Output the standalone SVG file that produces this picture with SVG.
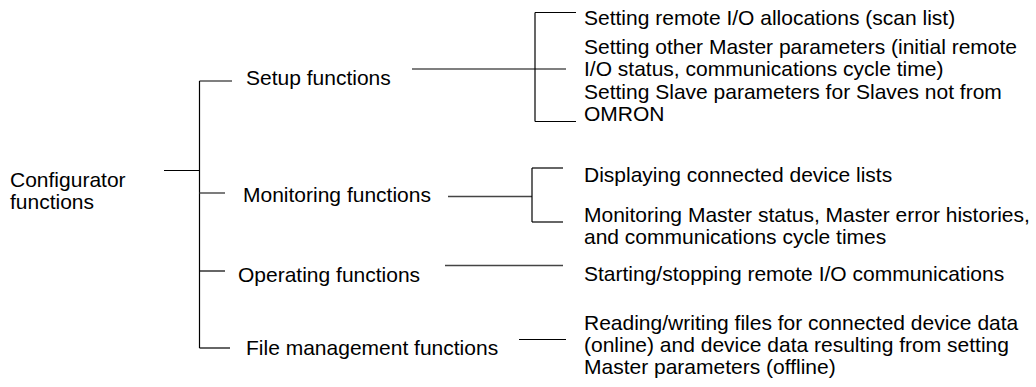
<svg xmlns="http://www.w3.org/2000/svg" width="1036" height="387" viewBox="0 0 1036 387">
<style>
text{font-family:"Liberation Sans",Arial,sans-serif;font-size:21px;fill:#000}
.c line{stroke:#000;stroke-width:1.2;fill:none}
.c line.g{stroke:#444;stroke-width:1.4}
</style>
<rect width="1036" height="387" fill="#fff"/>
<g class="c" id="connectors">
<line x1="164" y1="170.5" x2="199.5" y2="170.5"/>
<line x1="199.5" y1="81" x2="199.5" y2="348"/>
<line x1="199.5" y1="81" x2="232" y2="81"/>
<line class="g" x1="199.5" y1="193" x2="225" y2="193"/>
<line x1="199.5" y1="271" x2="225" y2="271"/>
<line x1="199.5" y1="348" x2="230" y2="348"/>
<line x1="412" y1="69" x2="566" y2="69"/>
<line x1="535" y1="12.5" x2="535" y2="121.5"/>
<line x1="535" y1="12.5" x2="576" y2="12.5"/>
<line x1="535" y1="121.5" x2="576" y2="121.5"/>
<line class="g" x1="448" y1="196.5" x2="532" y2="196.5"/>
<line x1="532" y1="168" x2="532" y2="222"/>
<line x1="532" y1="168" x2="563" y2="168"/>
<line x1="532" y1="222" x2="563" y2="222"/>
<line class="g" x1="445" y1="265.5" x2="563" y2="265.5"/>
<line x1="519" y1="339.5" x2="566" y2="339.5"/>
</g>
<g id="root"><text x="10" y="187">Configurator</text><text x="10" y="209">functions</text></g>
<g id="setup"><text x="246" y="85">Setup functions</text></g>
<g id="monitoring"><text x="243" y="202">Monitoring functions</text></g>
<g id="operating"><text x="238" y="282">Operating functions</text></g>
<g id="file"><text x="246" y="355">File management functions</text></g>
<g id="s1"><text x="584" y="25">Setting remote I/O allocations (scan list)</text></g>
<g id="s2"><text x="584" y="54">Setting other Master parameters (initial remote</text><text x="584" y="76">I/O status, communications cycle time)</text></g>
<g id="s3"><text x="584" y="99">Setting Slave parameters for Slaves not from</text><text x="584" y="121">OMRON</text></g>
<g id="m1"><text x="584" y="182">Displaying connected device lists</text></g>
<g id="m2"><text x="584" y="222">Monitoring Master status, Master error histories,</text><text x="584" y="244">and communications cycle times</text></g>
<g id="o1"><text x="584" y="281">Starting/stopping remote I/O communications</text></g>
<g id="f1"><text x="584" y="330">Reading/writing files for connected device data</text><text x="584" y="352">(online) and device data resulting from setting</text><text x="584" y="374">Master parameters (offline)</text></g>
</svg>
